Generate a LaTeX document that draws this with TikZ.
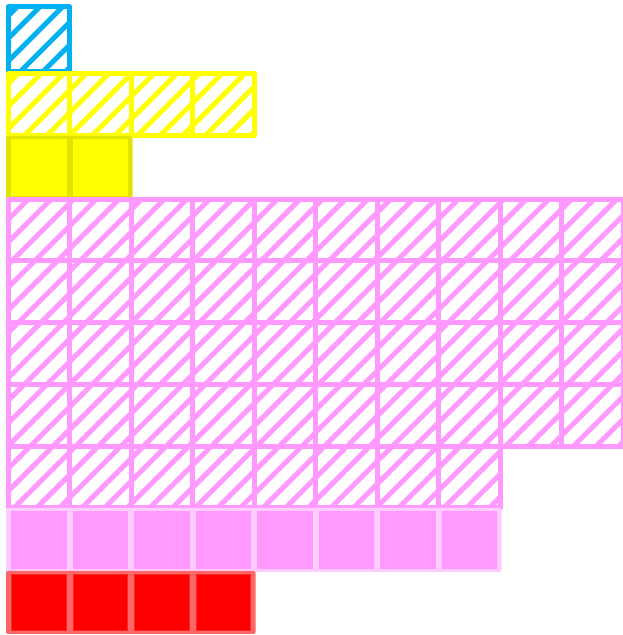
\documentclass[tikz,border=0pt]{standalone}
\usetikzlibrary{patterns.meta}
\definecolor{cblue}{HTML}{00B0F0}
\definecolor{cyel}{HTML}{FFFF00}
\definecolor{cyeldark}{HTML}{E3E300}
\definecolor{cpink}{HTML}{FF99FF}
\definecolor{cpinklight}{HTML}{FFCCFF}
\definecolor{cred}{HTML}{FF0000}
\definecolor{credlight}{HTML}{FF6666}
\tikzset{
  hatchfill/.style={pattern={Lines[angle=45,distance=16pt,line width=5pt]},pattern color=#1},
  cellframe/.style={draw=#1,line width=5pt,line join=round},
}
% hatched cells: #1 first col, #2 last col, #3 y top, #4 y bottom, #5 colour
\newcommand\hatchcells[5]{%
  \foreach \i in {#1,...,#2}{%
    \pgfmathsetmacro\xa{8+61.5*\i}%
    \pgfmathsetmacro\xb{8+61.5*(\i+1)}%
    \fill[hatchfill=#5] (\xa,635-#3) rectangle (\xb,635-#4);
    \draw[cellframe=#5] (\xa,635-#3) rectangle (\xb,635-#4);
  }%
}
% solid cells: #1 n cells, #2 y top, #3 y bottom, #4 frame colour, #5 cell colour, #6 cell border
\newcommand\solidcells[6]{%
  \pgfmathsetmacro\xe{8+61.5*#1}%
  \fill[#4,rounded corners=2pt] (6,635-#2) rectangle (\xe+1.5,635-#3);
  \foreach \i in {1,...,#1}{%
    \pgfmathsetmacro\xa{8+61.5*(\i-1)+3.5}%
    \pgfmathsetmacro\xb{8+61.5*\i-3.5}%
    \fill[#5,draw=#6,line width=0.8pt] (\xa,635-#2-3.5) rectangle (\xb,635-#3+3.5);
  }%
}
\begin{document}
\begin{tikzpicture}[x=1pt,y=1pt]
\useasboundingbox (0,0) rectangle (623,635);
% blue
\hatchcells{0}{0}{7}{72}{cblue}
% yellow hatched
\hatchcells{0}{3}{74}{136}{cyel}
% yellow solid
\solidcells{2}{136}{199}{cyeldark}{cyel}{cyel}
% pink hatched
\hatchcells{0}{9}{200}{261}{cpink}
\hatchcells{0}{9}{261}{323}{cpink}
\hatchcells{0}{9}{323}{385}{cpink}
\hatchcells{0}{9}{385}{447}{cpink}
\hatchcells{0}{7}{447}{508}{cpink}
% pink solid
\solidcells{8}{508}{572}{cpinklight}{cpink}{cpink}
% red
\solidcells{4}{571}{634}{credlight}{cred}{cred!85!white}
\end{tikzpicture}
\end{document}
